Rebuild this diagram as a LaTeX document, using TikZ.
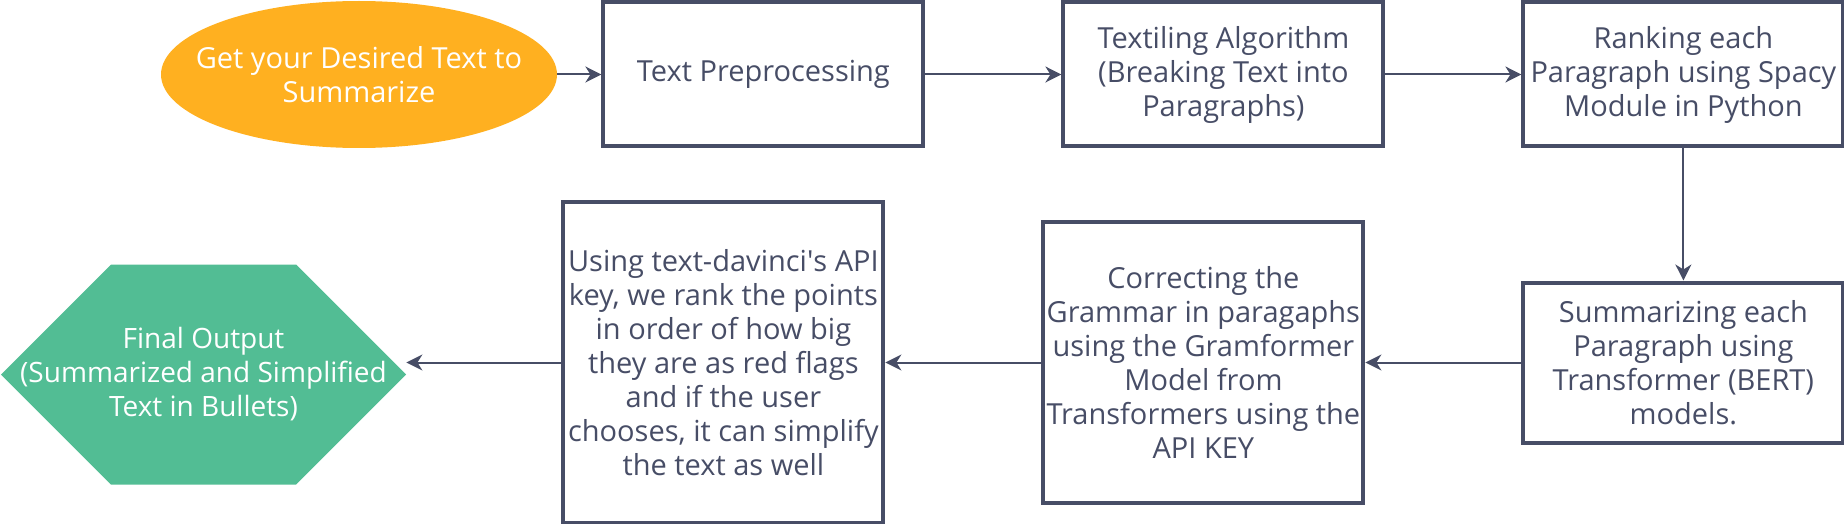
\documentclass[tikz,border=0pt]{standalone}
\usepackage{fontspec}
\setmainfont{Open Sans}
\usetikzlibrary{positioning, arrows.meta, shapes.geometric}
\definecolor{slate}{HTML}{474D66}
\definecolor{amber}{HTML}{FFB020}
\definecolor{mint}{HTML}{52BD94}
\tikzset{
    stepbox/.style={draw=slate, line width=2pt, minimum width=160pt, text=slate,
      align=center, inner xsep=0.5pt, font=\fontsize{14.5}{17}\selectfont},
    startnode/.style={ellipse, fill=amber, text=white, minimum width=198pt,
      minimum height=73.5pt, inner xsep=-15pt, inner ysep=0pt, align=center,
      font=\fontsize{14.5}{17}\selectfont},
    endnode/.style={rectangle, minimum width=202.5pt, minimum height=110pt, inner sep=0pt,
      text=white, align=center, font=\fontsize{14}{17}\selectfont,
      path picture={
        \fill[mint] (path picture bounding box.west)
          -- ([xshift=55pt]path picture bounding box.north west)
          -- ([xshift=-55pt]path picture bounding box.north east)
          -- (path picture bounding box.east)
          -- ([xshift=-55pt]path picture bounding box.south east)
          -- ([xshift=55pt]path picture bounding box.south west) -- cycle;
      }},
}

\begin{document}
\begin{tikzpicture}
    \tikzset{
      flow/.style={-{Stealth[length=8pt, width=8pt, inset=2.5pt]}, draw=slate, line width=1pt},
      node distance=68pt
    }
    \useasboundingbox (0,0) rectangle (922pt,-262pt);

    % top row
    \node[startnode] (get) at (179.5pt,-37.25pt) {Get your Desired Text to\\Summarize};
    \node[stepbox, minimum height=72pt, right=22pt of get] (prep) {Text Preprocessing};
    \node[stepbox, minimum height=72pt, right=of prep] (tile) {Textiling Algorithm\\(Breaking Text into\\Paragraphs)};
    \node[stepbox, minimum height=72pt, right=of tile] (rank) {Ranking each\\Paragraph using Spacy\\Module in Python};

    % bottom row
    \node[stepbox, minimum height=80pt, below=66pt of rank] (summ) {Summarizing each\\Paragraph using\\Transformer (BERT)\\models.};
    \node[stepbox, minimum height=140pt, left=78pt of summ] (gram) {Correcting the\\Grammar in paragaphs\\using the Gramformer\\Model from\\Transformers using the\\API KEY};
    \node[stepbox, minimum height=160pt, left=78pt of gram] (davinci) {Using text-davinci\textquotesingle s API\\key, we rank the points\\in order of how big\\they are as red flags\\and if the user\\chooses, it can simplify\\the text as well};
    \node[endnode, left=77.5pt of davinci, yshift=-6pt] (out) {Final Output\\(Summarized and Simplified\\Text in Bullets)};

    \draw[flow] (get) -- (prep);
    \draw[flow] (prep) -- (tile);
    \draw[flow] (tile) -- (rank);
    \draw[flow] (rank) -- (summ);
    \draw[flow] (summ) -- (gram);
    \draw[flow] (gram) -- (davinci);
    \draw[flow] (davinci.west) -- (davinci.west -| out.east);
  \end{tikzpicture}
\end{document}
